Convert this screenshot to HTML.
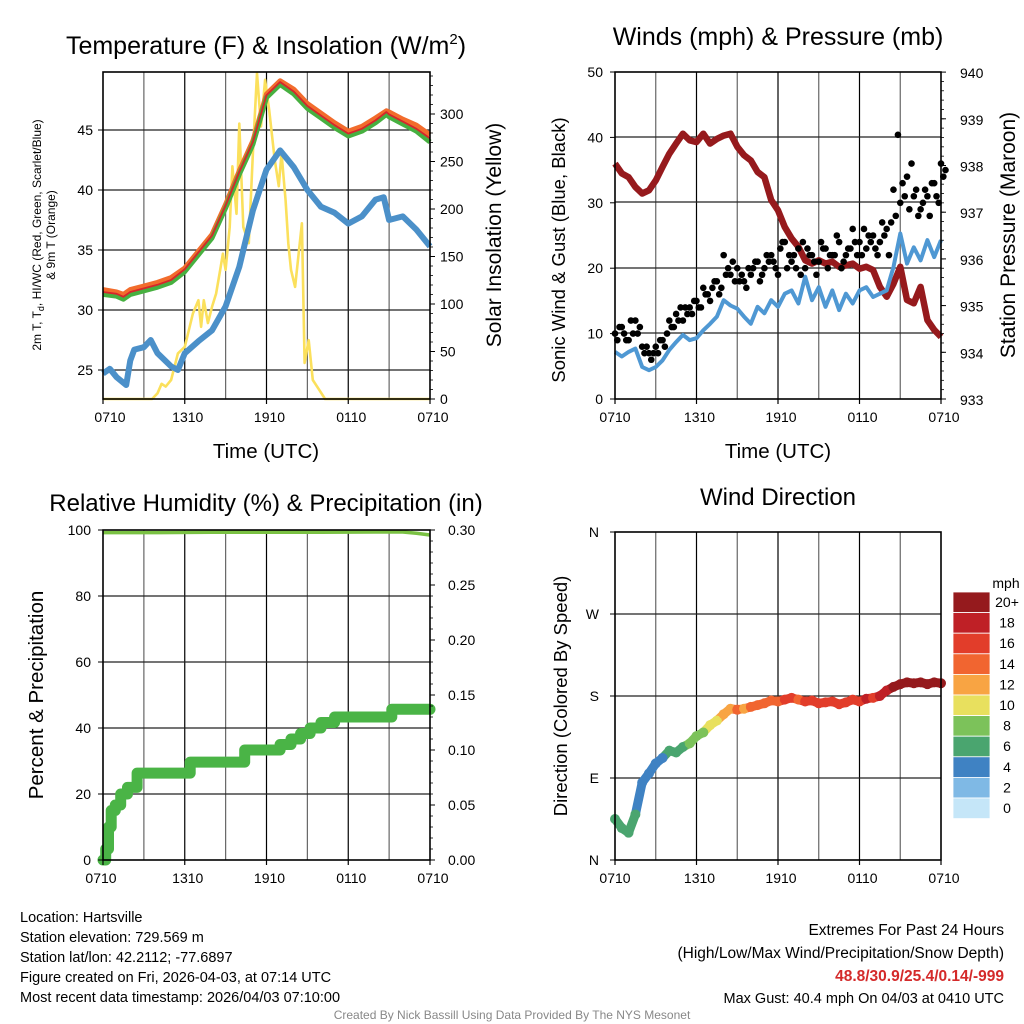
<!DOCTYPE html>
<html><head><meta charset="utf-8">
<style>
html,body{margin:0;padding:0;background:#fff;}
svg{display:block;font-family:"Liberation Sans",Arial,sans-serif;}
</style></head>
<body>
<svg id="c" width="1024" height="1024" viewBox="0 0 1024 1024"></svg>
<script>
// ---------- DATA ----------
const hours = [0,0.5,1,1.5,2,2.5,3,3.5,4,4.5,5,5.5,6,6.5,7,7.5,8,8.5,9,9.5,10,10.5,11,11.5,12,12.5,13,13.5,14,14.5,15,15.5,16,16.5,17,17.5,18,18.5,19,19.5,20,20.5,21,21.5,22,22.5,23,23.5,24];
const xTickHours = [0,6,12,18,24];
const xTickLabels = ['0710','1310','1910','0110','0710'];

const tHours = [0,1,1.5,2,3,4,5,6,7,8,9,10,11,12,13,14,15,16,17,18,19,20,20.8,21,22,23,24];
const tempGreen = [31.3,31.15,30.9,31.3,31.6,31.9,32.3,33.2,34.6,36.0,38.5,41.3,43.8,47.7,48.8,48.0,46.8,46.0,45.2,44.5,44.9,45.6,46.3,46.1,45.5,44.9,44.0];
const tempRed = [31.5,31.35,31.1,31.5,31.8,32.1,32.5,33.4,34.8,36.2,38.7,41.5,44.0,47.9,49.0,48.2,47.0,46.2,45.4,44.7,45.1,45.8,46.5,46.3,45.7,45.1,44.3];
const tempOrange = [31.7,31.5,31.3,31.7,32.0,32.3,32.7,33.5,34.9,36.3,38.8,41.6,44.1,48.0,49.1,48.4,47.2,46.4,45.6,44.9,45.3,46.0,46.6,46.5,45.9,45.4,44.6];
const dHours = [0,0.5,1,1.7,2,2.3,3,3.5,4,5,5.5,6,7,8,9,10,11,12,13,14,15,16,17,18,19,20,20.6,21,22,23,24];
const dewBlue = [24.7,25.1,24.4,23.75,25.8,26.7,26.9,27.5,26.4,25.3,25.0,26.4,27.4,28.3,30.3,33.6,38.3,41.7,43.3,41.9,40.0,38.6,38.1,37.2,37.8,39.2,39.4,37.5,37.8,36.7,35.3];
const sHours = [0,3.6,4,4.3,4.6,5,5.5,6,6.6,7,7.2,7.4,7.7,8,8.3,8.6,8.8,9,9.3,9.5,9.8,10,10.3,10.7,11,11.3,11.6,11.9,12.2,12.6,12.9,13.1,13.4,13.6,13.8,14.1,14.6,14.8,15.1,15.4,15.9,16.3,24];
const solar = [0,0,6,16,13,20,48,55,90,104,76,104,80,97,111,136,153,136,181,245,195,290,181,164,259,343,287,336,304,252,224,259,209,164,136,118,185,38,62,20,9,0,0];

const pressure = [938.04,937.83,937.75,937.54,937.40,937.47,937.68,937.97,938.25,938.47,938.68,938.54,938.50,938.68,938.47,938.57,938.64,938.68,938.40,938.22,938.11,937.86,937.75,937.26,937.04,936.68,936.44,936.26,935.97,935.90,935.97,935.90,935.94,935.83,935.86,935.90,935.79,935.83,935.76,935.40,935.19,935.47,935.83,935.12,935.05,935.40,934.69,934.48,934.33];
const windSonic = [7.2,6.5,7.2,7.7,4.9,4.4,4.9,5.9,7.5,8.7,9.8,9.0,9.3,10.5,11.5,12.6,15.1,14.3,13.8,12.6,11.5,14.1,13.1,15.1,14.1,16.1,16.6,14.6,18.7,15.1,17.1,14.1,16.6,13.6,16.1,14.6,16.6,17.1,15.6,16.1,16.6,20.2,25.3,20.7,23.2,21.2,24.3,21.7,24.3];
const gustA = [10,11,9,12,8,7,8,9,12,13,12,14,15,17,15,18,22,19,20,18,19,21,20,22,19,24,21,23,20,22,21,23,22,24,22,26,24,23,25,24,26,32,30,34,31,29,31,33,36];
const gustB = [9,10,12,10,7,6,7,8,11,12,14,13,14,16,17,16,19,21,18,17,20,18,22,21,23,20,22,19,23,21,24,20,22,20,23,24,22,25,23,27,22,28,33,29,32,30,28,31,34];
const gustC = [11,9,10,11,8,7,9,10,11,14,13,15,14,16,18,17,20,18,19,20,21,19,21,20,24,22,20,24,22,19,23,22,25,21,23,22,26,24,22,25,27,40.4,31,36,28,32,33,30,35];

const rhHours = [0,4,8,12,16,20,22,23,24];
const rh = [99.2,99.2,99.3,99.3,99.3,99.4,99.4,99.0,98.5];
const pHours = [0,0.2,0.4,0.6,0.9,1.3,1.8,2.5,6.4,10.4,13,13.8,14.5,15.2,16,17,21.2,24];
const precip = [0,0.01,0.03,0.045,0.05,0.06,0.066,0.079,0.089,0.10,0.105,0.11,0.115,0.12,0.125,0.13,0.137,0.137];

const direction = [45,35,30,50,85,95,106,112,120,118,124,128,136,140,148,153,160,166,165,166,168,170,172,175,174,176,178,176,174,175,172,173,174,171,173,176,174,177,178,180,186,190,193,195,194,195,193,195,194];
const dirSpeed = [6,6,6,6,4,4,5,4,6,6,7,8,9,8,10,11,12,13,14,13,14,14,15,14,15,16,16,15,16,17,16,17,16,17,16,17,17,18,17,18,19,20,21,21,22,21,21,22,22];

const cbLabels = ['20+','18','16','14','12','10','8','6','4','2','0'];
const cbColors = ['#951a1d','#bf2026','#e23d2a','#f16530','#f8a443','#e8e05e','#7cc25a','#4aa56f','#3f82c3','#7fb9e5','#c5e6f8'];

// ---------- HELPERS ----------
const NS='http://www.w3.org/2000/svg';
const svg=document.getElementById('c');
function mk(tag,attrs,parent){const e=document.createElementNS(NS,tag);for(const k in attrs)e.setAttribute(k,attrs[k]);(parent||svg).appendChild(e);return e;}
function txt(s,x,y,size,anchor,parent,extra){const t=mk('text',Object.assign({x:x,y:y,'font-size':size,'text-anchor':anchor||'middle',fill:'#000'},extra||{}),parent);t.textContent=s;return t;}
function poly(xs,ys,fx,fy){return xs.map((v,i)=>fx(v).toFixed(1)+','+fy(ys[i]).toFixed(1)).join(' ');}

function frame(g,x0,x1,y0,y1,hLines){
  const vl=[];for(let h=3;h<24;h+=3)vl.push(h);
  vl.forEach(h=>{const x=x0+(x1-x0)*h/24;const l=mk('line',{x1:x,x2:x,y1:y0,y2:y1,stroke:(h%6===0)?'#000':'#666','stroke-width':1.2},g);
    });
  hLines.forEach(y=>{const l=mk('line',{x1:x0,x2:x1,y1:y,y2:y,stroke:'#222','stroke-width':1.2},g);
    });
}
function box(g,x0,x1,y0,y1){const r=mk('rect',{x:x0,y:y0,width:x1-x0,height:y1-y0,fill:'none',stroke:'#000','stroke-width':1.6},g);
  }
function xTicks(g,x0,x1,y1,off){xTickHours.forEach((h,i)=>{const x=x0+(x1-x0)*h/24;
  mk('line',{x1:x,x2:x,y1:y1,y2:y1+5,stroke:'#000','stroke-width':1.2},g);
  const t=txt(xTickLabels[i],x+(i===0?off:3),y1+23,14,'middle',g);
  });}

// ---------- PANEL 1 ----------
(function(){
  const g=mk('g',{});
  const x0=103,x1=430,y0=72,y1=399;
  const fx=h=>x0+(x1-x0)*h/24, fT=t=>130-(t-45)*12, fS=s=>399-s*0.95;
  frame(g,x0,x1,y0,y1,[130,190,250,310,370]);
  const sl=mk('polyline',{points:poly(sHours,solar,fx,fS),fill:'none',stroke:'#fbe05c','stroke-width':2.6,'stroke-linejoin':'round'},g);
  
  const o=mk('polyline',{points:poly(tHours,tempOrange,fx,fT),fill:'none',stroke:'#f26c2c','stroke-width':5,'stroke-linejoin':'round'},g);
  
  const gr=mk('polyline',{points:poly(tHours,tempGreen,fx,fT),fill:'none',stroke:'#47b040','stroke-width':5,'stroke-linejoin':'round'},g);
  
  const r=mk('polyline',{points:poly(tHours,tempRed,fx,fT),fill:'none',stroke:'#d6262b','stroke-width':1.8,'stroke-linejoin':'round'},g);
  
  const d=mk('polyline',{points:poly(dHours,dewBlue,fx,fT),fill:'none',stroke:'#4b90c9','stroke-width':6,'stroke-linejoin':'round'},g);
  
  box(g,x0,x1,y0,y1);
  [25,30,35,40,45].forEach(v=>{mk('line',{x1:x0-5,x2:x0,y1:fT(v),y2:fT(v),stroke:'#000'},g);const t=txt(String(v),x0-10,fT(v)+5,14,'end',g);});
  [0,50,100,150,200,250,300].forEach(v=>{mk('line',{x1:x1,x2:x1+5,y1:fS(v),y2:fS(v),stroke:'#000'},g);const t=txt(String(v),x1+10,fS(v)+5,14,'start',g);});
  for(let v=10;v<350;v+=10){if(v%50)mk('line',{x1:x1,x2:x1+3,y1:fS(v),y2:fS(v),stroke:'#000','stroke-width':0.8},g);}
  xTicks(g,x0,x1,y1,7);
  const ti=mk('text',{x:266,y:54,'font-size':25,'text-anchor':'middle'},g);
  ti.innerHTML='Temperature (F) &amp; Insolation (W/m<tspan font-size="15" dy="-10">2</tspan><tspan dy="10">)</tspan>';
  const xt=txt('Time (UTC)',266,458,20.5,'middle',g);
  const yl=mk('text',{'font-size':12,'text-anchor':'middle',transform:'translate(41,235) rotate(-90)'},g);
  yl.innerHTML='2m T, T<tspan font-size="9" dy="3">d</tspan><tspan dy="-3">, HI/WC (Red, Green, Scarlet/Blue)</tspan>';
  const yl2=txt('& 9m T (Orange)',0,0,12,'middle',g,{transform:'translate(55,235) rotate(-90)'});
  const yr=txt('Solar Insolation (Yellow)',0,0,21,'middle',g,{transform:'translate(501,235) rotate(-90)'});
})();

// ---------- PANEL 2 ----------
(function(){
  const g=mk('g',{});
  const x0=615,x1=941,y0=72,y1=399;
  const fx=h=>x0+(x1-x0)*h/24, fW=w=>399-w*6.54, fP=p=>399-(p-933)*46.7;
  frame(g,x0,x1,y0,y1,[137,202,268,333]);
  const pl=mk('polyline',{points:poly(hours,pressure,fx,fP),fill:'none',stroke:'#961a1d','stroke-width':6.5,'stroke-linejoin':'round'},g);
  
  const wl=mk('polyline',{points:poly(hours,windSonic,fx,fW),fill:'none',stroke:'#4f98d3','stroke-width':4,'stroke-linejoin':'round'},g);
  
  [gustA,gustB,gustC].forEach(arr=>{arr.forEach((v,i)=>{const c=mk('circle',{cx:fx(hours[i]+ (arr===gustB?0.17:arr===gustC?0.33:0)),cy:fW(v),r:3.3,fill:'#000'},g);
    });});
  box(g,x0,x1,y0,y1);
  [0,10,20,30,40,50].forEach(v=>{mk('line',{x1:x0-5,x2:x0,y1:fW(v),y2:fW(v),stroke:'#000'},g);const t=txt(String(v),x0-12,fW(v)+5,14,'end',g);});
  [933,934,935,936,937,938,939,940].forEach(v=>{mk('line',{x1:x1,x2:x1+5,y1:fP(v),y2:fP(v),stroke:'#000'},g);const t=txt(String(v),x1+19,fP(v)+6,14,'start',g);});
  for(let v=933.2;v<940;v+=0.2){mk('line',{x1:x1,x2:x1+3,y1:fP(v),y2:fP(v),stroke:'#000','stroke-width':0.8},g);}
  xTicks(g,x0,x1,y1,0);
  const ti=txt('Winds (mph) & Pressure (mb)',778,45,25,'middle',g);
  const xt=txt('Time (UTC)',778,458,20.5,'middle',g);
  const yl=txt('Sonic Wind & Gust (Blue, Black)',0,0,18.5,'middle',g,{transform:'translate(565,250) rotate(-90)'});
  const yr=txt('Station Pressure (Maroon)',0,0,21,'middle',g,{transform:'translate(1015,235) rotate(-90)'});
})();

// ---------- PANEL 3 ----------
(function(){
  const g=mk('g',{});
  const x0=103,x1=430,y0=530,y1=860;
  const fx=h=>x0+(x1-x0)*h/24, fR=p=>860-p*3.3, fPr=v=>860-v*1100;
  frame(g,x0,x1,y0,y1,[596,662,728,794]);
  let pts=[];precip.forEach((v,i)=>{if(i>0)pts.push(fx(pHours[i]).toFixed(1)+','+fPr(precip[i-1]).toFixed(1));pts.push(fx(pHours[i]).toFixed(1)+','+fPr(v).toFixed(1));});
  const pl=mk('polyline',{points:pts.join(' '),fill:'none',stroke:'#4ab446','stroke-width':11,'stroke-linejoin':'round','stroke-linecap':'round'},g);
  
  const rl=mk('polyline',{points:poly(rhHours,rh,fx,fR),fill:'none',stroke:'#7ac143','stroke-width':3.5},g);
  
  box(g,x0,x1,y0,y1);
  [0,20,40,60,80,100].forEach(v=>{mk('line',{x1:x0-5,x2:x0,y1:fR(v),y2:fR(v),stroke:'#000'},g);const t=txt(String(v),x0-12,fR(v)+5,14,'end',g);});
  ['0.00','0.05','0.10','0.15','0.20','0.25','0.30'].forEach(v=>{const y=fPr(+v);mk('line',{x1:x1,x2:x1+5,y1:y,y2:y,stroke:'#000'},g);const t=txt(v,x1+18,y+5,14,'start',g);});
  for(let v=0.01;v<0.3;v+=0.01){mk('line',{x1:x1,x2:x1+3,y1:fPr(v),y2:fPr(v),stroke:'#000','stroke-width':0.8},g);}
  xTicks(g,x0,x1,y1,-2);
  const ti=txt('Relative Humidity (%) & Precipitation (in)',266,511,24,'middle',g);
  const yl=txt('Percent & Precipitation',0,0,20.5,'middle',g,{transform:'translate(43,695) rotate(-90)'});
})();

// ---------- PANEL 4 ----------
(function(){
  const g=mk('g',{});
  const x0=615,x1=941,y0=532,y1=860;
  const fx=h=>x0+(x1-x0)*h/24, fD=d=>860-d*328/360;
  frame(g,x0,x1,y0,y1,[fD(90),fD(180),fD(270)]);
  const col=s=>cbColors[10-Math.min(10,Math.floor(s/2))];
  direction.forEach((d,i)=>{if(i===0)return;const l=mk('line',{x1:fx(hours[i-1]),y1:fD(direction[i-1]),x2:fx(hours[i]),y2:fD(d),stroke:col(dirSpeed[i]),'stroke-width':9,'stroke-linecap':'round'},g);
    });
  direction.forEach((d,i)=>{const c=mk('circle',{cx:fx(hours[i]),cy:fD(d),r:5,fill:col(dirSpeed[i])},g);
    });
  box(g,x0,x1,y0,y1);
  ['N','E','S','W','N'].forEach((s,i)=>{const y=fD(i*90);mk('line',{x1:x0-5,x2:x0,y1:y,y2:y,stroke:'#000'},g);const t=txt(s,x0-16,y+5,14,'end',g);});
  xTicks(g,x0,x1,y1,0);
  const ti=txt('Wind Direction',778,505,24,'middle',g);
  const yl=txt('Direction (Colored By Speed)',0,0,18.5,'middle',g,{transform:'translate(567,696) rotate(-90)'});
  const cb=mk('g',{},g);
  const u=txt('mph',1006,588,14,'middle',cb);
  cbColors.forEach((c,i)=>{const r=mk('rect',{x:953,y:592+i*20.6,width:37,height:20.6,fill:c,stroke:'#fff','stroke-width':0.8},cb);
    
    const t=txt(cbLabels[i],1007,592+i*20.6+15,14,'middle',cb);});
})();

// ---------- FOOTER ----------
(function(){
  const g=mk('g',{});
  ['Location: Hartsville','Station elevation: 729.569 m','Station lat/lon: 42.2112; -77.6897','Figure created on Fri, 2026-04-03, at 07:14 UTC','Most recent data timestamp: 2026/04/03 07:10:00'].forEach((s,i)=>{
    const t=txt(s,20,922+i*20,14.5,'start',g);});
  const g2=mk('g',{});
  const a=txt('Extremes For Past 24 Hours',1004,935,15.5,'end',g2);
  const b=txt('(High/Low/Max Wind/Precipitation/Snow Depth)',1004,958,15.5,'end',g2);
  const c=txt('48.8/30.9/25.4/0.14/-999',1004,981,15.5,'end',g2,{fill:'#d42a2a','font-weight':'bold'});
  const d=txt('Max Gust: 40.4 mph On 04/03 at 0410 UTC',1004,1003,14.5,'end',g2);
  const e=txt('Created By Nick Bassill Using Data Provided By The NYS Mesonet',512,1019,12,'middle',svg,{fill:'#888'});
})();
</script>
</body></html>
